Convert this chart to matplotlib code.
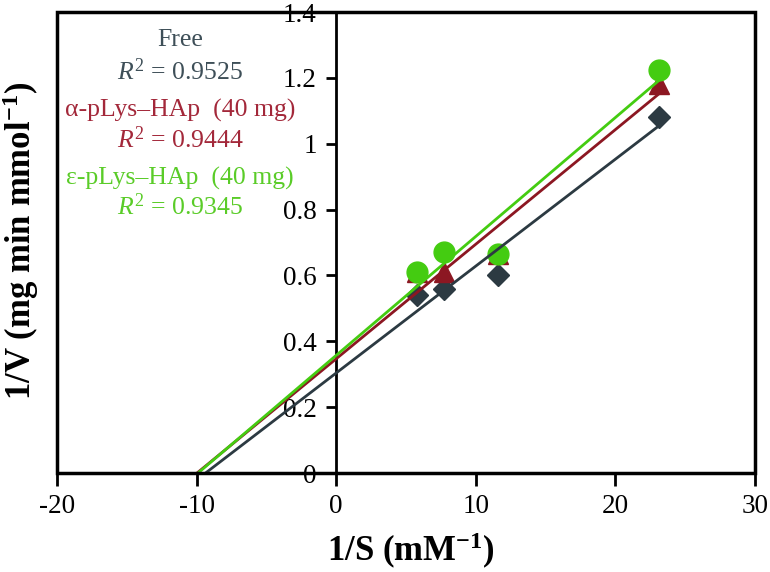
import numpy as np
import matplotlib
matplotlib.use("Agg")
import matplotlib.pyplot as plt
from matplotlib.patches import Rectangle

# data (Lineweaver-Burk)
inv_s = [5.8, 7.7, 11.6, 23.1]
free_v = [0.54, 0.56, 0.60, 1.08]
alpha_v = [0.61, 0.61, 0.665, 1.18]
eps_v = [0.61, 0.67, 0.665, 1.225]
r2_labels = ["0.9525", "0.9444", "0.9345"]
names = ["Free", "α-pLys–HAp  (40 mg)", "ε-pLys–HAp  (40 mg)"]

plt.rcParams['font.family'] = ['Liberation Serif', 'DejaVu Serif']
plt.rcParams['mathtext.fontset'] = 'custom'
plt.rcParams['mathtext.rm'] = 'Liberation Serif'
plt.rcParams['mathtext.it'] = 'Liberation Serif:italic'
plt.rcParams['mathtext.bf'] = 'Liberation Serif:bold'
plt.rcParams['axes.unicode_minus'] = False

c_free = '#2c3a42'
c_alpha = '#8c1722'
c_eps = '#44cc11'
t_free = '#3e4f58'
t_alpha = '#a3283a'
t_eps = '#5acc28'

fig = plt.figure(figsize=(7.7, 5.72), dpi=100)
ax = fig.add_axes([0.074, 0.173, 0.9065, 0.806])

series = [(free_v, c_free, 'D', 11, 2), (alpha_v, c_alpha, '^', 14, 3), (eps_v, c_eps, 'o', 15, 4)]
for vals, col, mk, ms, z in series:
    ax.plot(inv_s, vals, linestyle='none', marker=mk, markersize=ms, color=col, zorder=z)

# linear trendlines, extended back to y = 0
for vals, col, mk, ms, z in series:
    k, b = np.polyfit(inv_s, vals, 1)
    x0 = -b / k
    ax.plot([x0, max(inv_s)], [0, k * max(inv_s) + b], color=col, lw=2, zorder=5)

ax.set_xlim(-20, 30)
ax.set_ylim(0, 1.4)
ax.set_xticks([-20, -10, 0, 10, 20, 30])
ax.set_yticks([0, 0.2, 0.4, 0.6, 0.8, 1.0, 1.2, 1.4])
ax.set_yticklabels(["0", "0.2", "0.4", "0.6", "0.8", "1", "1.2", "1.4"])

ax.spines['left'].set_position(('data', 0))
ax.spines['right'].set_visible(False)
ax.spines['top'].set_visible(False)
for s in ['left', 'bottom']:
    ax.spines[s].set_linewidth(2)
ax.add_patch(Rectangle((0, 0), 1, 1, transform=ax.transAxes, fill=False,
                       lw=2.5, edgecolor='black', clip_on=False, zorder=6))

ax.tick_params(axis='x', direction='out', length=9, width=2, labelsize=19.5, pad=6)
ax.tick_params(axis='y', direction='out', length=7, width=2, labelsize=19.5, pad=7)

fig.text(411 / 770, 1 - 551 / 572, r"1/S (mM$^{\mathbf{-1}}$)", fontsize=25,
         fontweight='bold', ha='center', va='center')
fig.text(21 / 770, 1 - 241 / 572, r"1/V (mg min mmol$^{\mathbf{-1}}$)", fontsize=25,
         fontweight='bold', rotation=90, ha='center', va='center')

txt_x = 180
labels_y = [40, 72, 110, 140, 178, 207]
texts = [(names[0], t_free), (r"$R^2$ = " + r2_labels[0], t_free),
         (names[1], t_alpha), (r"$R^2$ = " + r2_labels[1], t_alpha),
         (names[2], t_eps), (r"$R^2$ = " + r2_labels[2], t_eps)]
for (t, col), yp in zip(texts, labels_y):
    fig.text(txt_x / 770, 1 - yp / 572, t, color=col, fontsize=18.5,
             ha='center', va='center')

fig.savefig("out.png", dpi=100)
